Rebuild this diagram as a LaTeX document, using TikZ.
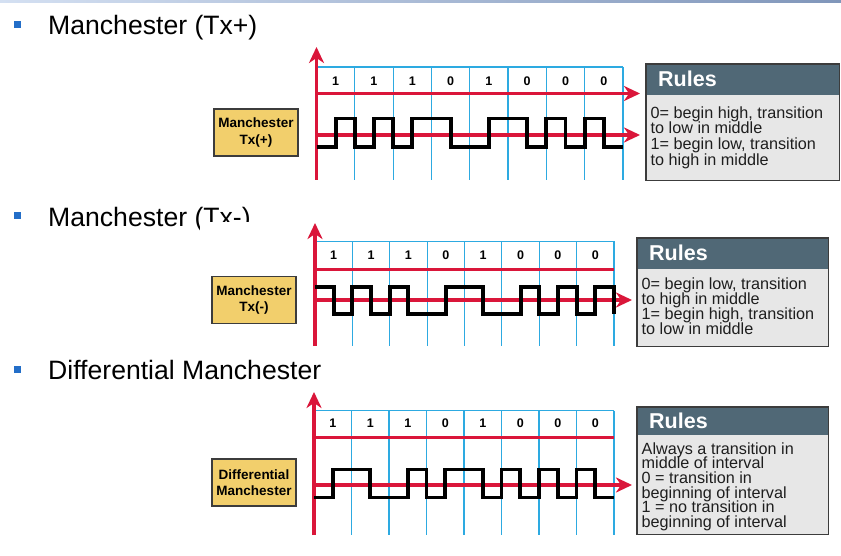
\documentclass[tikz,border=0pt]{standalone}
\usepackage{fontspec}
\setmainfont{Liberation Sans}
\usetikzlibrary{arrows.meta}
\definecolor{axred}{RGB}{218,22,58}
\definecolor{gridblue}{RGB}{45,170,225}
\definecolor{lblfill}{RGB}{242,207,108}
\definecolor{lblborder}{RGB}{60,60,60}
\definecolor{rheadfill}{RGB}{80,104,118}
\definecolor{rbodyfill}{RGB}{231,231,231}
\definecolor{rborder}{RGB}{60,60,60}
\definecolor{rtextcol}{RGB}{30,30,30}
\definecolor{bulletblue}{RGB}{35,110,200}
\definecolor{stripL}{RGB}{212,224,242}
\definecolor{stripM}{RGB}{196,211,236}
\definecolor{stripR}{RGB}{128,150,186}
\tikzset{
  head/.style={anchor=base west, inner sep=0pt, font=\fontsize{26.6}{30}\selectfont},
  bul/.style={fill=bulletblue, minimum size=7pt, inner sep=0pt},
  gridline/.style={draw=gridblue, line width=1.2pt},
  redline/.style={draw=axred, line width=3.8pt},
  axarrow/.style={redline, -{Stealth[length=16pt,width=15pt,inset=5pt]}},
  sigline/.style={draw=black, line width=3.9pt},
  bit/.style={inner sep=0pt, font=\fontsize{12.5}{12}\selectfont\bfseries},
  lbl/.style={draw=lblborder, line width=1.3pt, fill=lblfill, minimum width=84pt,
    minimum height=47pt, align=center, inner sep=0pt,
    font=\fontsize{13.5}{16.5}\selectfont\bfseries},
  rbody/.style={fill=rbodyfill, anchor=north west, inner sep=0pt},
  rhead/.style={fill=rheadfill, anchor=north west, inner sep=0pt},
  rframe/.style={draw=rborder, line width=1.5pt},
  rtitle/.style={anchor=base west, inner sep=0pt, text=white,
    font=\fontsize{21.5}{21}\selectfont\bfseries},
  rtext/.style={anchor=base west, inner sep=0pt, text=rtextcol,
    font=\fontsize{16.2}{16}\selectfont},
}
\begin{document}
\begin{tikzpicture}[x=1pt,y=-1pt]
\useasboundingbox (0,0) rectangle (841,556);
\fill[white] (0,0) rectangle (841,556);
\shade[left color=stripL, middle color=stripM, right color=stripR] (0,0) rectangle (841,2.7);

% ---------- headings
\node[bul] (b1) at (17,24.5) {};
\node[head] (h1) at (48,34.5) {Manchester (Tx+)};
\node[bul] (b2) at (17,216) {};
\node[head] (h2) at (48,226.5) {Manchester (Tx-)};
\fill[white] (200,222) rectangle (640,350);
\node[bul] (b3) at (17,369.5) {};
\node[head] (h3) at (48,379.5) {Differential Manchester};

% ---------- diagram 1 : Manchester Tx(+)
\def\xa{316.5}\def\xb{623}\def\hw{19.15625}
\def\yH{118.5}\def\yL{147}
\foreach \i in {1,...,8} \draw[gridline] ({\xa+\i*2*\hw},67) -- ({\xa+\i*2*\hw},180);
\draw[gridline] (\xa,67) -- (\xb,67);
\foreach \b [count=\i] in {1,1,1,0,1,0,0,0}
  \node[bit] (a\i) at ({\xa+(2*\i-1)*\hw},81.5) {\b};
\coordinate (ao) at (\xa,180); \coordinate (at) at (\xa,47);
\coordinate (ap1) at (\xa,93.5); \coordinate (aq1) at (640,93.5);
\coordinate (ap2) at (\xa,135); \coordinate (aq2) at (640,135);
\draw[axarrow] (ap1) -- (aq1);
\draw[axarrow] (ap2) -- (aq2);
\draw[axarrow] (ao) -- (at);
\draw[sigline] (\xa,\yL)
  foreach \k/\lv in {1/\yH,2/\yL,3/\yH,4/\yL,5/\yH,7/\yL,9/\yH,11/\yL,12/\yH,13/\yL,14/\yH,15/\yL}
  { -| ({\xa+\k*\hw},\lv) } -- ({\xa+16*\hw},\yL);
\node[lbl] (l1) at (256,132.5) {Manchester\\Tx(+)};
% rules 1
\node[rbody, minimum width=193pt, minimum height=116pt] (r1) at (646,64) {};
\node[rhead, minimum width=193pt, minimum height=31pt] (r1h) at (646,64) {};
\draw[rframe] (r1.north west) rectangle (r1.south east);
\node[rtitle] (r1t) at (658,87) {Rules};
\node[rtext] (r1a) at (650.5,118.3) {0= begin high, transition};
\node[rtext] (r1b) at (650.5,133.9) {to low in middle};
\node[rtext] (r1c) at (650.5,149.5) {1= begin low, transition};
\node[rtext] (r1d) at (650.5,165.1) {to high in middle};

% ---------- diagram 2 : Manchester Tx(-)
\def\xa{315}\def\xb{614}\def\hw{18.6875}
\def\yH{287}\def\yL{314}
\foreach \i in {1,...,8} \draw[gridline] ({\xa+\i*2*\hw},241.5) -- ({\xa+\i*2*\hw},346);
\draw[gridline] (\xa,241.5) -- (\xb,241.5);
\foreach \b [count=\i] in {1,1,1,0,1,0,0,0}
  \node[bit] (c\i) at ({\xa+(2*\i-1)*\hw},255) {\b};
\coordinate (co) at (\xa,346); \coordinate (ct) at (\xa,223);
\coordinate (cp1) at (\xa,269.5); \coordinate (cq1) at (\xb,269.5);
\coordinate (cp2) at (\xa,300); \coordinate (cq2) at (632,300);
\draw[redline] (cp1) -- (cq1);
\draw[axarrow] (cp2) -- (cq2);
\draw[axarrow] (co) -- (ct);
\draw[sigline] (\xa,\yH)
  foreach \k/\lv in {1/\yL,2/\yH,3/\yL,4/\yH,5/\yL,7/\yH,9/\yL,11/\yH,12/\yL,13/\yH,14/\yL,15/\yH,16/\yL}
  { -| ({\xa+\k*\hw},\lv) };
\node[lbl] (l2) at (254,300) {Manchester\\Tx(-)};
% rules 2
\node[rbody, minimum width=191pt, minimum height=108pt] (r2) at (637,238) {};
\node[rhead, minimum width=191pt, minimum height=31pt] (r2h) at (637,238) {};
\draw[rframe] (r2.north west) rectangle (r2.south east);
\node[rtitle] (r2t) at (649,260.5) {Rules};
\node[rtext] (r2a) at (641.5,289) {0= begin low, transition};
\node[rtext] (r2b) at (641.5,304.3) {to high in middle};
\node[rtext] (r2c) at (641.5,319.6) {1= begin high, transition};
\node[rtext] (r2d) at (641.5,334.9) {to low in middle};

% ---------- diagram 3 : Differential Manchester
\def\xa{314}\def\xb{614}\def\hw{18.75}
\def\yH{469.5}\def\yL{497.5}
\foreach \i in {1,...,8} \draw[gridline] ({\xa+\i*2*\hw},410.5) -- ({\xa+\i*2*\hw},535);
\draw[gridline] (\xa,410.5) -- (\xb,410.5);
\foreach \b [count=\i] in {1,1,1,0,1,0,0,0}
  \node[bit] (e\i) at ({\xa+(2*\i-1)*\hw},423) {\b};
\coordinate (eo) at (\xa,535); \coordinate (et) at (\xa,392);
\coordinate (ep1) at (\xa,437.5); \coordinate (eq1) at (\xb,437.5);
\coordinate (ep2) at (\xa,485); \coordinate (eq2) at (632,485);
\draw[redline] (ep1) -- (eq1);
\draw[axarrow] (ep2) -- (eq2);
\draw[axarrow] (eo) -- (et);
\draw[sigline] (\xa,\yL)
  foreach \k/\lv in {1/\yH,3/\yL,5/\yH,6/\yL,7/\yH,9/\yL,10/\yH,11/\yL,12/\yH,13/\yL,14/\yH,15/\yL}
  { -| ({\xa+\k*\hw},\lv) } -- ({\xa+16*\hw},\yL);
\node[lbl] (l3) at (254,482.5) {Differential\\Manchester};
% rules 3
\node[rbody, minimum width=191pt, minimum height=127pt] (r3) at (637,407) {};
\node[rhead, minimum width=191pt, minimum height=28pt] (r3h) at (637,407) {};
\draw[rframe] (r3.north west) rectangle (r3.south east);
\node[rtitle] (r3t) at (649,428.5) {Rules};
\node[rtext] (r3a) at (641.5,454) {Always a transition in};
\node[rtext] (r3b) at (641.5,468.7) {middle of interval};
\node[rtext] (r3c) at (641.5,483.4) {0 = transition in};
\node[rtext] (r3d) at (641.5,498.1) {beginning of interval};
\node[rtext] (r3e) at (641.5,512.8) {1 = no transition in};
\node[rtext] (r3f) at (641.5,527.5) {beginning of interval};
\end{tikzpicture}
\end{document}
